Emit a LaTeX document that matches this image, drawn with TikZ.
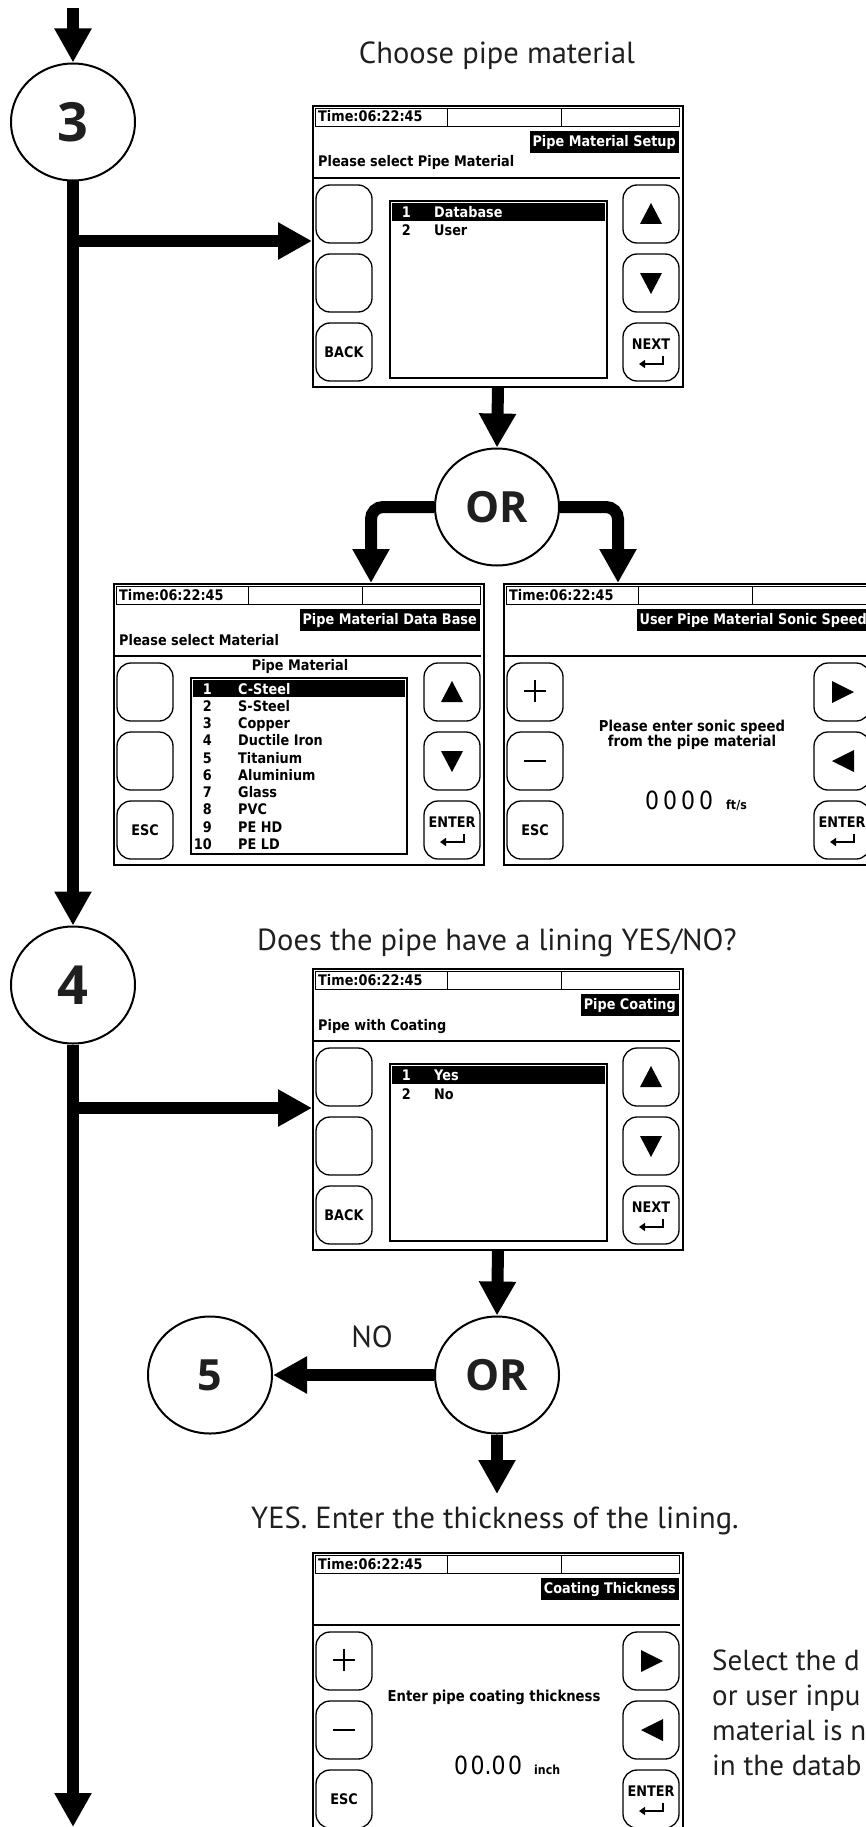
\documentclass[tikz,border=0pt]{standalone}
\usepackage{fontspec}
\setmainfont{PT Sans}
\newfontfamily\lcdfont[FakeStretch=0.88]{DejaVu Sans}
\newfontfamily\circfont{Open Sans}
\usetikzlibrary{arrows.meta,shapes.geometric}
\tikzset{
  flow/.style={line width=12pt, -{Triangle[length=34pt,width=35pt]}},
  bubble/.style={ellipse, draw, line width=2pt, minimum width=124pt, minimum height=117pt, inner sep=0pt, fill=white, text=black!88},
  bignum/.style={font=\circfont\bfseries\fontsize{54}{54}\selectfont},
  midnum/.style={font=\circfont\bfseries\fontsize{43}{43}\selectfont},
  lbl/.style={font=\fontsize{30.5}{36}\selectfont, inner sep=0pt, text=black!88},
  note/.style={font=\fontsize{29}{34}\selectfont, inner sep=0pt, text=black!88},
  scr/.style={draw, line width=2pt, minimum width=370pt, minimum height=281pt, inner sep=0pt, fill=white},
  lcd/.style={font=\lcdfont\bfseries\fontsize{14.6}{16}\selectfont, inner sep=0pt},
  lcdmid/.style={font=\lcdfont\bfseries\fontsize{15}{14.5}\selectfont, inner sep=0pt},
  bigdig/.style={font=\lcdfont\fontsize{25}{25}\selectfont, inner sep=0pt},
  unit/.style={font=\lcdfont\bfseries\fontsize{12.5}{13}\selectfont, inner sep=0pt},
  btn/.style={draw, line width=1.3pt, rounded corners=14pt},
  titlebar/.style={lcd, fill=black, text=white, inner xsep=3pt, inner ysep=0pt, minimum height=22pt, anchor=north east},
  keysym/.style={line width=2.6pt},
}
% screen frame with common parts
\newcommand\lcdscreen[6]{%
  \node[scr, anchor=north west] (#1) at (#2,#3) {};
  \begin{scope}[shift={(#2,#3)}]
    \draw[line width=0.9pt] (3,3) rectangle (367,21) (135,3) -- (135,21) (249,3) -- (249,21);
    \node[lcd, anchor=base west] (#1-time) at (6,17) {Time:06:22:45};
    \node[titlebar] (#1-title) at (367,26) {#4};
    \node[lcd, anchor=base west] (#1-sub) at (6,62) {#5};
    \draw[line width=1.6pt] (2,73) -- (368,73);
    \draw[btn] (4,80) rectangle ++(56,58);
    \draw[btn] (4,149) rectangle ++(56,58);
    \draw[btn] (4,218) rectangle ++(56,58);
    \draw[btn] (311,80) rectangle ++(56,58);
    \draw[btn] (311,149) rectangle ++(56,58);
    \draw[btn] (311,218) rectangle ++(56,58);
    #6
  \end{scope}}
\newcommand\scrUpDown{%
  \fill (328,119) -- (350,119) -- (339,98) -- cycle;
  \fill (328,168) -- (350,168) -- (339,189) -- cycle;}
\newcommand\scrLeftRight{%
  \fill (329,98) -- (329,120) -- (351,109) -- cycle;
  \fill (351,167) -- (351,189) -- (329,178) -- cycle;}
\newcommand\scrPlusMinus{%
  \draw[keysym] (21,108) -- (43,108) (32,97) -- (32,119);
  \draw[keysym] (21,178) -- (43,178);}
\newcommand\scrEnter[2]{%
  \node[lcd] (#1-enter) at (339,239) {#2};
  \draw[line width=2.2pt, -{Triangle[length=6pt,width=8pt]}] (351,251) -- (351,259) -- (327,259);}
\begin{document}
\begin{tikzpicture}[x=1pt,y=-1pt]
\useasboundingbox (0,0) rectangle (866,1827);
\clip (0,0) rectangle (866,1827);

% ---------- screens ----------
\lcdscreen{s1}{312}{105}{Pipe Material Setup}{Please select Pipe Material}{%
  \draw[line width=1.4pt] (78,96) rectangle (295,273);
  \fill (80,98) rectangle (293,116);
  \node[lcd, text=white, anchor=base east] (s1-n1) at (99,112.5) {1};
  \node[lcd, text=white, anchor=base west] (s1-i1) at (122,112.5) {Database};
  \node[lcd, anchor=base east] (s1-n2) at (99,131) {2};
  \node[lcd, anchor=base west] (s1-i2) at (122,131) {User};
  \scrUpDown
  \node[lcd] (s1-back) at (32,247) {BACK};
  \scrEnter{s1}{NEXT}
}

\lcdscreen{s2}{113}{583}{Pipe Material Data Base}{Please select Material}{%
  \node[lcd] (s2-head) at (187,83) {Pipe Material};
  \draw[line width=1.4pt] (78,95) rectangle (294,271);
  \fill (80,97) rectangle (292,114);
  \node[lcd, text=white, anchor=base east] (s2-n1) at (99,111) {1};
  \node[lcd, text=white, anchor=base west] (s2-i1) at (125,111) {C-Steel};
  \foreach \n/\m in {2/S-Steel,3/Copper,4/Ductile Iron,5/Titanium,6/Aluminium,7/Glass,8/PVC,9/PE HD,10/PE LD}{
    \pgfmathsetmacro\yy{111+17.25*(\n-1)}
    \node[lcd, anchor=base east] (s2-n\n) at (99,\yy) {\n};
    \node[lcd, anchor=base west] (s2-i\n) at (125,\yy) {\m};
  }
  \scrUpDown
  \node[lcd] (s2-esc) at (32,247) {ESC};
  \scrEnter{s2}{ENTER}
}

\lcdscreen{s3}{503}{583}{User Pipe Material Sonic Speed}{}{%
  \node[lcdmid, align=center] (s3-msg) at (189,152) {Please enter sonic speed\\from the pipe material};
  \node[bigdig, anchor=base west] (s3-val) at (142,226) {0\hspace{4pt}0\hspace{4pt}0\hspace{4pt}0};
  \node[unit, anchor=base west] (s3-unit) at (223,226) {ft/s};
  \scrPlusMinus
  \scrLeftRight
  \node[lcd] (s3-esc) at (32,247) {ESC};
  \scrEnter{s3}{ENTER}
}

\lcdscreen{s4}{312}{968}{Pipe Coating}{Pipe with Coating}{%
  \draw[line width=1.4pt] (78,96) rectangle (295,273);
  \fill (80,98) rectangle (293,116);
  \node[lcd, text=white, anchor=base east] (s4-n1) at (99,112.5) {1};
  \node[lcd, text=white, anchor=base west] (s4-i1) at (122,112.5) {Yes};
  \node[lcd, anchor=base east] (s4-n2) at (99,131) {2};
  \node[lcd, anchor=base west] (s4-i2) at (122,131) {No};
  \scrUpDown
  \node[lcd] (s4-back) at (32,247) {BACK};
  \scrEnter{s4}{NEXT}
}

\lcdscreen{s5}{312}{1552}{Coating Thickness}{}{%
  \node[lcdmid] (s5-msg) at (182,145) {Enter pipe coating thickness};
  \node[bigdig, anchor=base west] (s5-val) at (142,222) {0\hspace{2.5pt}0.0\hspace{2.5pt}0};
  \node[unit, anchor=base west] (s5-unit) at (222,222) {inch};
  \scrPlusMinus
  \scrLeftRight
  \node[lcd] (s5-esc) at (32,247) {ESC};
  \scrEnter{s5}{ENTER}
}

% ---------- circles ----------
\node[bubble, bignum] (c3) at (73,122) {3};
\node[bubble, midnum] (or1) at (497,507) {OR};
\node[bubble, bignum] (c4) at (73,985) {4};
\node[bubble, midnum] (or2) at (497,1375) {OR};
\node[bubble, midnum] (c5) at (210,1375) {5};

% ---------- labels ----------
\node[lbl, anchor=base] (t1) at (497,64) {Choose pipe material};
\node[lbl, anchor=base] (t2) at (497,950) {Does the pipe have a lining YES/NO?};
\node[lbl, anchor=base] (t3) at (495,1528) {YES. Enter the thickness of the lining.};
\node[lbl, anchor=base] (tno) at (372,1347) {NO};
\node[note, anchor=base west] (n1) at (712,1670) {Select the d};
\node[note, anchor=base west] (n2) at (712,1705) {or user inpu};
\node[note, anchor=base west] (n3) at (712,1740) {material is n};
\node[note, anchor=base west] (n4) at (712,1775) {in the datab};

% ---------- connectors ----------
\coordinate (top) at (73,8);
\coordinate (bot) at (73,1827);
\coordinate (b3) at (73,241);
\coordinate (b4) at (73,1108);
\coordinate (s2in) at (371,583);
\coordinate (s3in) at (618,583);
\coordinate (yes) at (497,1494);

\draw[flow] (top) -- (c3.north);
\draw[flow] (c3.south) -- (c4.north);
\draw[flow] (c4.south) -- (bot);
\draw[flow] (b3) -- (b3 -| s1.west);
\draw[flow] (b4) -- (b4 -| s4.west);
\draw[flow] (s1.south) -- (or1.north);
\draw[flow, rounded corners=12pt] (or1.west) -| (s2in);
\draw[flow, rounded corners=12pt] (or1.east) -| (s3in);
\draw[flow] (s4.south) -- (or2.north);
\draw[flow] (or2.west) -- (c5.east);
\draw[flow] (or2.south) -- (yes);
\end{tikzpicture}
\end{document}
